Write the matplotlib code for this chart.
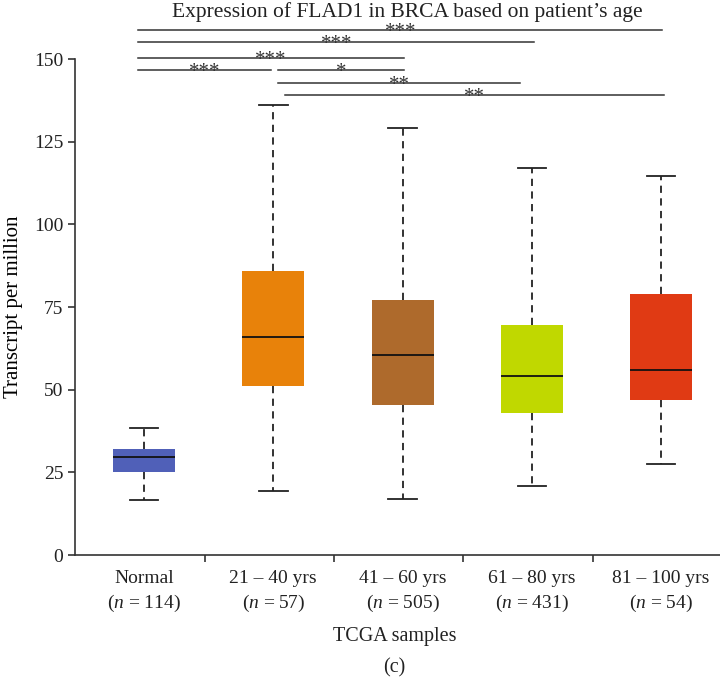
import matplotlib
matplotlib.use("Agg")
import matplotlib.pyplot as plt

plt.rcParams['font.family'] = ['Liberation Serif', 'DejaVu Serif']
plt.rcParams['mathtext.fontset'] = 'custom'
plt.rcParams['mathtext.rm'] = 'Liberation Serif'
plt.rcParams['mathtext.it'] = 'Liberation Serif:italic'

groups = ['Normal', '21 – 40 yrs', '41 – 60 yrs', '61 – 80 yrs', '81 – 100 yrs']
counts = [114, 57, 505, 431, 54]
whislo = [16.5, 19.5, 17.0, 21.0, 27.5]
q1 = [25.0, 51.0, 45.5, 43.0, 47.0]
med = [29.5, 66.0, 60.5, 54.0, 56.0]
q3 = [32.0, 86.0, 77.0, 69.5, 79.0]
whishi = [38.5, 136.0, 129.0, 117.0, 114.5]
colors = ['#5060B8', '#E8820A', '#AE6A2C', '#C0D800', '#E03A14']

# significance brackets: (from group, to group, stars)
comparisons = [(1, 5, '***'), (1, 4, '***'), (1, 3, '***'), (1, 2, '***'),
               (2, 3, '*'), (2, 4, '**'), (2, 5, '**')]

fig = plt.figure(figsize=(7.2, 6.83), dpi=100)
ax = fig.add_axes([0.1042, 0.1874, 0.8958, 0.7262])

stats = []
for i in range(len(groups)):
    stats.append(dict(med=med[i], q1=q1[i], q3=q3[i], whislo=whislo[i],
                      whishi=whishi[i], fliers=[]))
pos = list(range(1, len(groups) + 1))
bp = ax.bxp(stats, positions=pos, widths=0.48, patch_artist=True,
            showfliers=False,
            boxprops=dict(linewidth=0),
            medianprops=dict(color='#111111', linewidth=1.3),
            whiskerprops=dict(color='#222222', linewidth=1.3, linestyle=(0, (4, 3))),
            capprops=dict(color='#222222', linewidth=1.3),
            capwidths=0.22)
for patch, c in zip(bp['boxes'], colors):
    patch.set_facecolor(c)
    patch.set_edgecolor(c)

ax.set_xlim(0.466, 5.456)
ax.set_ylim(0, 150)
ax.set_yticks([0, 25, 50, 75, 100, 125, 150])
ax.tick_params(axis='y', labelsize=14, length=5, width=1.1, colors='#222222')

ax.set_xticks(pos)
ax.set_xticklabels([f'{g}\n($n$ = {n})' for g, n in zip(groups, counts)],
                   fontsize=14, linespacing=1.4)
ax.tick_params(axis='x', which='major', length=0, pad=11, colors='#222222')
ax.set_xticks([1.47, 2.47, 3.47, 4.47], minor=True)
ax.tick_params(axis='x', which='minor', length=5, width=1.1, direction='out',
               colors='#222222')

for s in ['top', 'right']:
    ax.spines[s].set_visible(False)
for s in ['left', 'bottom']:
    ax.spines[s].set_linewidth(1.2)
    ax.spines[s].set_color('#333333')

ax.set_ylabel('Transcript per million', fontsize=15, labelpad=8)

# bracket lines above the boxes
levels = [158.8, 155.0, 150.4, 146.6, 146.6, 142.6, 139.0]
starts = [0.955, 0.955, 0.955, 0.955, 2.04, 2.04, 2.09]
ends = [5.01, 4.02, 3.01, 1.98, 3.01, 3.91, 5.02]
for (a, b, lab), y, x0, x1 in zip(comparisons, levels, starts, ends):
    ax.plot([x0, x1], [y, y], color='#333333', lw=1.1, clip_on=False)
    ax.text((x0 + x1) / 2, y - 3.6, lab, ha='center', va='bottom',
            fontsize=15, color='#333333', clip_on=False)

fig.text(0.566, 0.997, 'Expression of FLAD1 in BRCA based on patient’s age',
         ha='center', va='top', fontsize=15.5, color='#222222')
fig.text(0.548, 0.068, 'TCGA samples', ha='center', va='center',
         fontsize=14.5, color='#222222')
fig.text(0.548, 0.022, '(c)', ha='center', va='center',
         fontsize=14.5, color='#222222')

fig.savefig('out.png', dpi=100)
